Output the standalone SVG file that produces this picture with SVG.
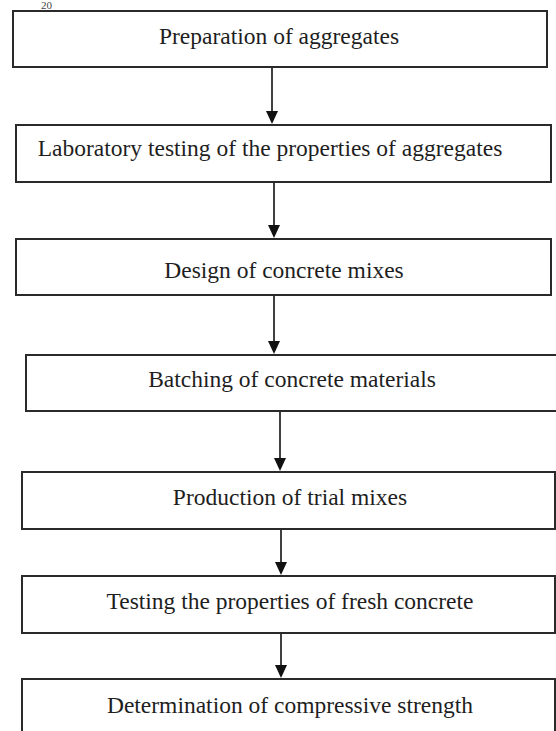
<svg xmlns="http://www.w3.org/2000/svg" width="556" height="731" viewBox="0 0 556 731">
  <style>
    .box { fill: #ffffff; stroke: #2a2a2a; stroke-width: 2; }
    .lbl { font-family: "Liberation Serif", "Times New Roman", serif; font-size: 23.5px; fill: #1e1e1e; text-anchor: middle; }
    .conn { stroke: #111; stroke-width: 1.6; fill: none; }
    .head { fill: #111; }
    .pg { font-family: "Liberation Serif", "Times New Roman", serif; font-size: 11px; fill: #444; }
  </style>
  <rect width="556" height="731" fill="#ffffff"/>
  <text class="pg" x="41" y="9">20</text>

  <g id="connectors">
    <line class="conn" x1="272" y1="67" x2="272" y2="112"/>
    <path class="head" d="M266,111 L278,111 L272,124 Z"/>
    <line class="conn" x1="274" y1="182" x2="274" y2="226"/>
    <path class="head" d="M268,225 L280,225 L274,238 Z"/>
    <line class="conn" x1="274" y1="295" x2="274" y2="342"/>
    <path class="head" d="M268,341 L280,341 L274,354 Z"/>
    <line class="conn" x1="280" y1="411" x2="280" y2="459"/>
    <path class="head" d="M274,458 L286,458 L280,471 Z"/>
    <line class="conn" x1="281" y1="529" x2="281" y2="563"/>
    <path class="head" d="M275,562 L287,562 L281,575 Z"/>
    <line class="conn" x1="281" y1="633" x2="281" y2="666"/>
    <path class="head" d="M275,665 L287,665 L281,678 Z"/>
  </g>

  <g id="n1">
    <rect class="box" x="13" y="11" width="534" height="56"/>
    <text class="lbl" x="279" y="44">Preparation of aggregates</text>
  </g>
  <g id="n2">
    <rect class="box" x="16" y="125" width="535" height="57"/>
    <text class="lbl" x="270" y="156">Laboratory testing of the properties of aggregates</text>
  </g>
  <g id="n3">
    <rect class="box" x="16" y="239" width="535" height="56"/>
    <text class="lbl" x="284" y="278">Design of concrete mixes</text>
  </g>
  <g id="n4">
    <rect class="box" x="26" y="355" width="540" height="56"/>
    <text class="lbl" x="292" y="387">Batching of concrete materials</text>
  </g>
  <g id="n5">
    <rect class="box" x="22" y="472" width="533" height="57"/>
    <text class="lbl" x="290" y="505">Production of trial mixes</text>
  </g>
  <g id="n6">
    <rect class="box" x="22" y="576" width="533" height="57"/>
    <text class="lbl" x="290" y="609">Testing the properties of fresh concrete</text>
  </g>
  <g id="n7">
    <rect class="box" x="22" y="679" width="533" height="70"/>
    <text class="lbl" x="290" y="713">Determination of compressive strength</text>
  </g>
</svg>
